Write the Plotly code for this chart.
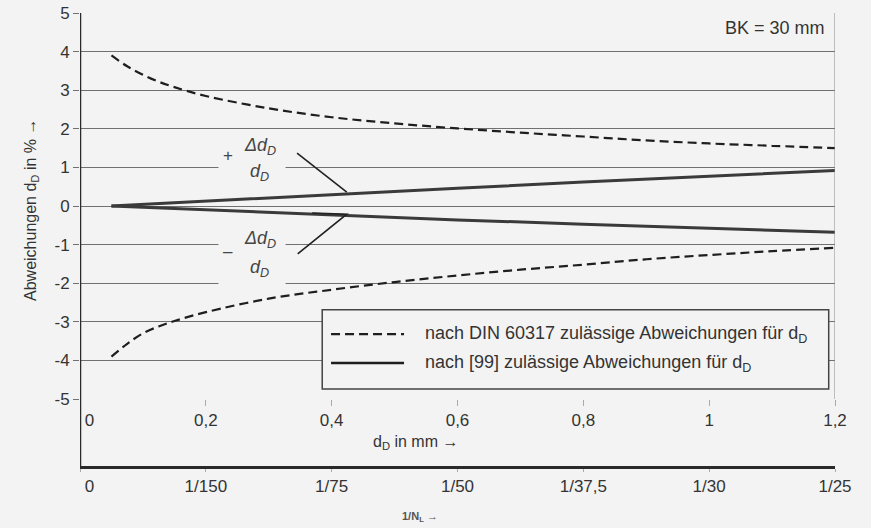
import plotly.graph_objects as go

# ---- data ----
x_din = [0.05, 0.075, 0.1, 0.125, 0.15, 0.2, 0.3, 0.4, 0.5, 0.6, 0.7, 0.8, 0.9, 1.0, 1.1, 1.2]
din_upper = [3.9, 3.62, 3.4, 3.22, 3.08, 2.85, 2.53, 2.3, 2.14, 2.01, 1.9, 1.8, 1.7, 1.62, 1.56, 1.5]
din_lower = [-3.9, -3.57, -3.3, -3.12, -2.98, -2.75, -2.4, -2.17, -1.97, -1.8, -1.65, -1.52, -1.38, -1.27, -1.17, -1.08]

x_99 = [0.05, 0.2, 0.4, 0.6, 0.8, 1.0, 1.2]
upper_99 = [0.0, 0.13, 0.3, 0.46, 0.62, 0.77, 0.92]
lower_99 = [0.0, -0.1, -0.23, -0.36, -0.47, -0.58, -0.68]

tick_pos = [0, 0.2, 0.4, 0.6, 0.8, 1.0, 1.2]
tick_dd = ["\u00a0\u00a0\u00a0\u00a00", "0,2", "0,4", "0,6", "0,8", "1", "1,2"]
tick_nl = ["\u00a0\u00a0\u00a0\u00a00", "1/150", "1/75", "1/50", "1/37,5", "1/30", "1/25"]
y_ticks = [-5, -4, -3, -2, -1, 0, 1, 2, 3, 4, 5]
y_ticktext = ["-5", "-4", "-3", "-2", "-1", "0", "1", "2", "3", "4", "5"]

legend_din = "nach DIN 60317 zulässige Abweichungen für d<sub>D</sub>"
legend_99 = "nach [99] zulässige Abweichungen für d<sub>D</sub>"

BG = "#f3f3f3"
FONT = "Arial, Liberation Sans, sans-serif"
TXT = "#333333"

fig = go.Figure()
# upper DIN curve drawn on the secondary (1/N_L) axis, which shares the same range
fig.add_trace(go.Scatter(x=x_din, y=din_upper, xaxis="x2", mode="lines", line_shape="spline",
                         line=dict(color="#1e1e1e", width=2.2, dash="9px,5px"), showlegend=False))
fig.add_trace(go.Scatter(x=x_din, y=din_lower, mode="lines", line_shape="spline",
                         line=dict(color="#1e1e1e", width=2.2, dash="9px,5px"), showlegend=False))
fig.add_trace(go.Scatter(x=x_99, y=upper_99, mode="lines", line=dict(color="#3a3a3a", width=3), showlegend=False))
fig.add_trace(go.Scatter(x=x_99, y=lower_99, mode="lines", line=dict(color="#3a3a3a", width=3), showlegend=False))

ydom0 = (467 - 399) / 454

fig.update_layout(
    width=871, height=528,
    margin=dict(l=80, r=36, t=13, b=61),
    paper_bgcolor=BG, plot_bgcolor=BG,
    font=dict(family=FONT, size=16, color=TXT),
    showlegend=False,
    xaxis=dict(range=[0, 1.2], tickvals=tick_pos, ticktext=tick_dd, showgrid=False, zeroline=False,
               showline=False, ticks="outside", ticklen=6, tickcolor="#aaaaaa", anchor="y",
               automargin=False, tickfont=dict(size=17, color=TXT)),
    xaxis2=dict(range=[0, 1.2], tickvals=tick_pos, ticktext=tick_nl, overlaying="x", anchor="free",
                position=0, side="bottom", showgrid=False, zeroline=False, showline=True,
                linewidth=2.5, linecolor="#2a2a2a", ticks="outside", ticklen=3, tickcolor="#aaaaaa",
                automargin=False, tickfont=dict(size=17, color=TXT)),
    yaxis=dict(range=[-5, 5], tickvals=y_ticks, ticktext=y_ticktext, domain=[ydom0, 1], showgrid=True,
               gridcolor="#707070", gridwidth=1, zeroline=False, showline=False, ticks="outside",
               ticklen=6, tickcolor="#707070", automargin=False, tickfont=dict(size=17, color=TXT)),
)

# frame lines
fig.add_shape(type="line", xref="x", yref="paper", x0=0, x1=0, y0=0, y1=1, line=dict(color="#2a2a2a", width=2.5))
fig.add_shape(type="line", xref="x", yref="paper", x0=1.2, x1=1.2, y0=ydom0, y1=1, line=dict(color="#888888", width=1))

# patches that interrupt gridlines behind labels
fig.add_annotation(xref="x", yref="y", x=0.273, y=1.27, text="", showarrow=False, width=64, height=50, bgcolor=BG)
fig.add_annotation(xref="x", yref="y", x=0.273, y=-1.5, text="", showarrow=False, width=64, height=52, bgcolor=BG)

# fraction labels
frac_font = dict(family=FONT, size=18, color="#444444")
for sign, ynum, ybar, yden, ysign in [("+", 1.55, 1.27, 0.88, 1.3), ("\u2013", -0.88, -1.14, -1.61, -1.17)]:
    fig.add_annotation(xref="x", yref="y", x=0.235, y=ysign, text=sign, showarrow=False,
                       font=dict(family=FONT, size=17, color="#444444"))
    fig.add_annotation(xref="x", yref="y", x=0.286, y=ynum, text="<i>Δd<sub>D</sub></i>", showarrow=False, font=frac_font)
    fig.add_annotation(xref="x", yref="y", x=0.286, y=yden, text="<i>d<sub>D</sub></i>", showarrow=False, font=frac_font)
    fig.add_shape(type="line", xref="x", yref="y", x0=0.259, x1=0.305, y0=ybar, y1=ybar,
                  line=dict(color="#555555", width=1.2))

# leader lines
fig.add_shape(type="line", xref="x", yref="y", x0=0.345, y0=1.37, x1=0.424, y1=0.36, line=dict(color="#222222", width=1.6))
fig.add_shape(type="path", xref="x", yref="y", path="M 0.369 -0.18 L 0.424 -0.21 L 0.346 -1.24",
              line=dict(color="#222222", width=1.6))

# BK text
fig.add_annotation(xref="x", yref="y", x=1.188, y=4.62, xanchor="right", text="BK = 30 mm", showarrow=False,
                   font=dict(size=18, color=TXT))

# legend box
fig.add_shape(type="rect", xref="x", yref="y", x0=0.385, x1=1.19, y0=-4.74, y1=-2.69, fillcolor=BG,
              line=dict(color="#444444", width=1.5), layer="above")
fig.add_shape(type="line", xref="x", yref="y", x0=0.399, x1=0.515, y0=-3.32, y1=-3.32,
              line=dict(color="#1e1e1e", width=2.2, dash="9px,5px"))
fig.add_shape(type="line", xref="x", yref="y", x0=0.399, x1=0.515, y0=-4.07, y1=-4.07,
              line=dict(color="#1e1e1e", width=2.5))
fig.add_annotation(xref="x", yref="y", x=0.545, y=-3.32, xanchor="left", text=legend_din, showarrow=False,
                   font=dict(size=18, color=TXT))
fig.add_annotation(xref="x", yref="y", x=0.545, y=-4.07, xanchor="left", text=legend_99, showarrow=False,
                   font=dict(size=18, color=TXT))

# axis titles
fig.add_annotation(xref="paper", yref="paper", x=-0.065, y=0.566, xanchor="center", yanchor="middle",
                   text="Abweichungen d<sub>D</sub> in % →", textangle=-90, showarrow=False,
                   font=dict(size=16, color=TXT))
fig.add_annotation(xref="x", yref="paper", x=0.533, y=0.055, xanchor="center", yanchor="middle",
                   text="d<sub>D</sub> in mm →", showarrow=False, font=dict(size=16, color=TXT))
fig.add_annotation(xref="x", yref="paper", x=0.54, y=-0.11, xanchor="center", yanchor="middle",
                   text="<b>1/N<sub>L</sub> →</b>", showarrow=False, font=dict(size=11, color="#555555"))

fig.write_html("out.html", config={"displayModeBar": False},
               post_script="document.body.style.margin='0px';")
